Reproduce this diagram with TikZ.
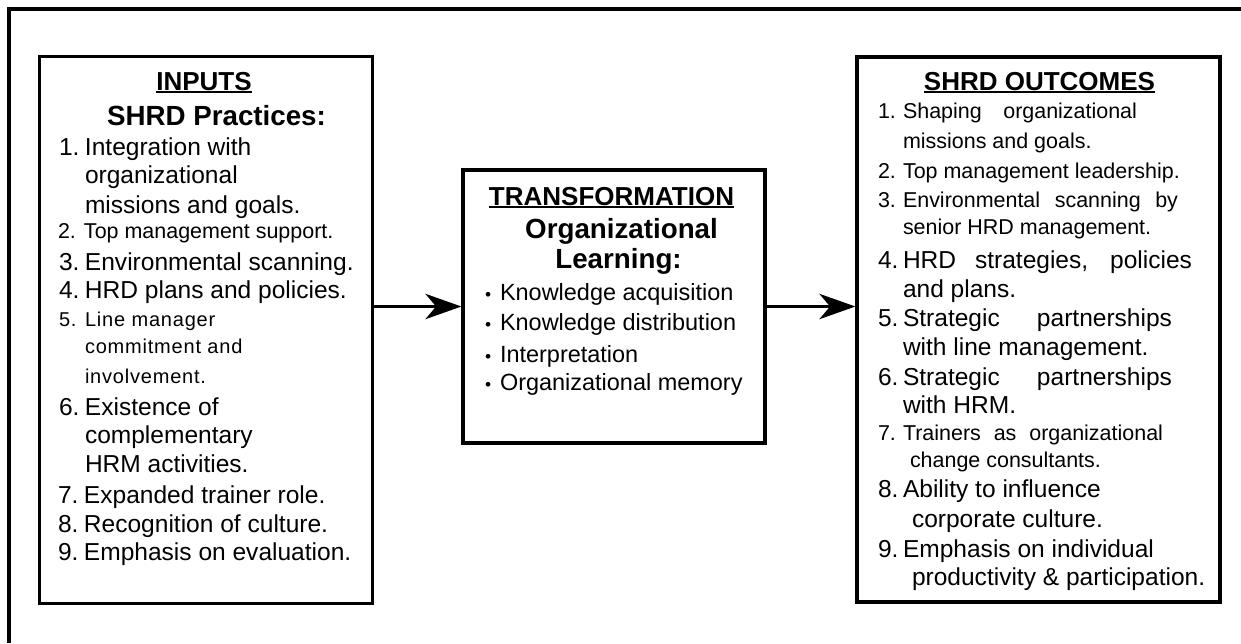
\documentclass[tikz,border=0pt]{standalone}
\usepackage{fontspec}
\setmainfont{Liberation Sans}
\usetikzlibrary{arrows.meta,fit}
\newcommand\hul[1]{\setbox0\hbox{#1}\rlap{\rule[-2.6pt]{\wd0}{1.5pt}}\box0}
\newcommand\numL[1]{\makebox[19.5pt][l]{#1}}
\newcommand\numR[1]{\makebox[18.75pt][l]{#1}}
\newcommand\jus[2]{\makebox[#1][s]{#2}}
\newcommand\blt{\makebox[11.25pt][l]{\fontsize{13}{13}\selectfont\textbullet}}
\begin{document}
\begin{tikzpicture}[x=0.75pt,y=-0.75pt,
  frame/.style={line width=2.4pt},
  box/.style={draw, line width=2.4pt, inner sep=0pt},
  txt/.style={inner sep=0pt, outer sep=0pt, anchor=base west},
  big/.style={txt, font=\fontsize{18.4}{22}\selectfont},
  mid/.style={txt, font=\fontsize{16.1}{19}\selectfont},
  tiny/.style={txt, font=\fontsize{15}{18}\selectfont\addfontfeature{LetterSpace=4}},
  bul/.style={txt, font=\fontsize{17.6}{21}\selectfont},
  hdr/.style={inner sep=0pt, anchor=base, font=\bfseries\fontsize{19.5}{23}\selectfont},
  sub/.style={inner sep=0pt, anchor=base, font=\bfseries\fontsize{20.8}{24}\selectfont},
  arr/.style={line width=2.1pt, -{Stealth[length=27pt,width=19pt,inset=8pt]}}
]
\useasboundingbox (0,0) rectangle (1241,643);
\draw[frame] (9,643) -- (9,9) -- (1241,9);

\node[box, fit={(39.5,56.5) (372.5,603.5)}] (inputs) {};
\node[box, fit={(463,170) (765,443)}] (transf) {};
\node[box, fit={(857,57) (1220,602)}] (outcomes) {};

\draw[arr] (transf.west -| inputs.east) -- (transf.west);
\draw[arr] (transf.east) -- (transf.east -| outcomes.west);

% inputs
\node[hdr] (inH) at (204,90) {\hul{INPUTS}};
\node[sub] (inS) at (216.5,125) {SHRD Practices:};
\node[big] (i1a) at (59,155) {\numL{1.}Integration with};
\node[big] (i1b) at (85,183) {organizational};
\node[big] (i1c) at (85,213) {missions and goals.};
\node[mid] (i2) at (58,238) {\numL{2.}Top management support.};
\node[big] (i3) at (59,270) {\numL{3.}Environmental scanning.};
\node[big] (i4) at (59,298) {\numL{4.}HRD plans and policies.};
\node[tiny] (i5a) at (59,326) {\numL{5.}Line manager};
\node[tiny] (i5b) at (85,353) {commitment and};
\node[tiny] (i5c) at (85,383) {involvement.};
\node[big] (i6a) at (59,415) {\numL{6.}Existence of};
\node[big] (i6b) at (85,443) {complementary};
\node[big] (i6c) at (85,472) {HRM activities.};
\node[big] (i7) at (58,503) {\numL{7.}Expanded trainer role.};
\node[big] (i8) at (58,532) {\numL{8.}Recognition of culture.};
\node[big] (i9) at (58,560) {\numL{9.}Emphasis on evaluation.};

% transformation
\node[hdr] (trH) at (611.5,205) {\hul{TRANSFORMATION}};
\node[sub] (trS1) at (621.5,238) {Organizational};
\node[sub] (trS2) at (618.5,268) {Learning:};
\node[bul] (b1) at (485,300) {\blt Knowledge acquisition};
\node[bul] (b2) at (485,330) {\blt Knowledge distribution};
\node[bul] (b3) at (485,362) {\blt Interpretation};
\node[bul] (b4) at (485,390) {\blt Organizational memory};

% outcomes
\node[hdr] (ouH) at (1039.5,90) {\hul{SHRD OUTCOMES}};
\node[mid] (o1a) at (878,118) {\numR{1.}\jus{175.5pt}{Shaping organizational}};
\node[mid] (o1b) at (903,148) {missions and goals.};
\node[mid] (o2) at (878,178) {\numR{2.}Top management leadership.};
\node[mid] (o3a) at (878,207) {\numR{3.}\jus{206.25pt}{Environmental scanning by}};
\node[mid] (o3b) at (903,234) {senior HRD management.};
\node[big] (o4a) at (878,268) {\numR{4.}\jus{216.75pt}{HRD strategies, policies}};
\node[big] (o4b) at (903,297) {and plans.};
\node[big] (o5a) at (878,326) {\numR{5.}\jus{201.75pt}{Strategic partnerships}};
\node[big] (o5b) at (903,355) {with line management.};
\node[big] (o6a) at (878,385) {\numR{6.}\jus{201.75pt}{Strategic partnerships}};
\node[big] (o6b) at (903,413) {with HRM.};
\node[mid] (o7a) at (878,440) {\numR{7.}\jus{195pt}{Trainers as organizational}};
\node[mid] (o7b) at (910,467) {change consultants.};
\node[big] (o8a) at (878,497) {\numR{8.}Ability to influence};
\node[big] (o8b) at (912,527) {corporate culture.};
\node[big] (o9a) at (878,557) {\numR{9.}Emphasis on individual};
\node[big] (o9b) at (912,585) {productivity \& participation.};
\end{tikzpicture}
\end{document}
